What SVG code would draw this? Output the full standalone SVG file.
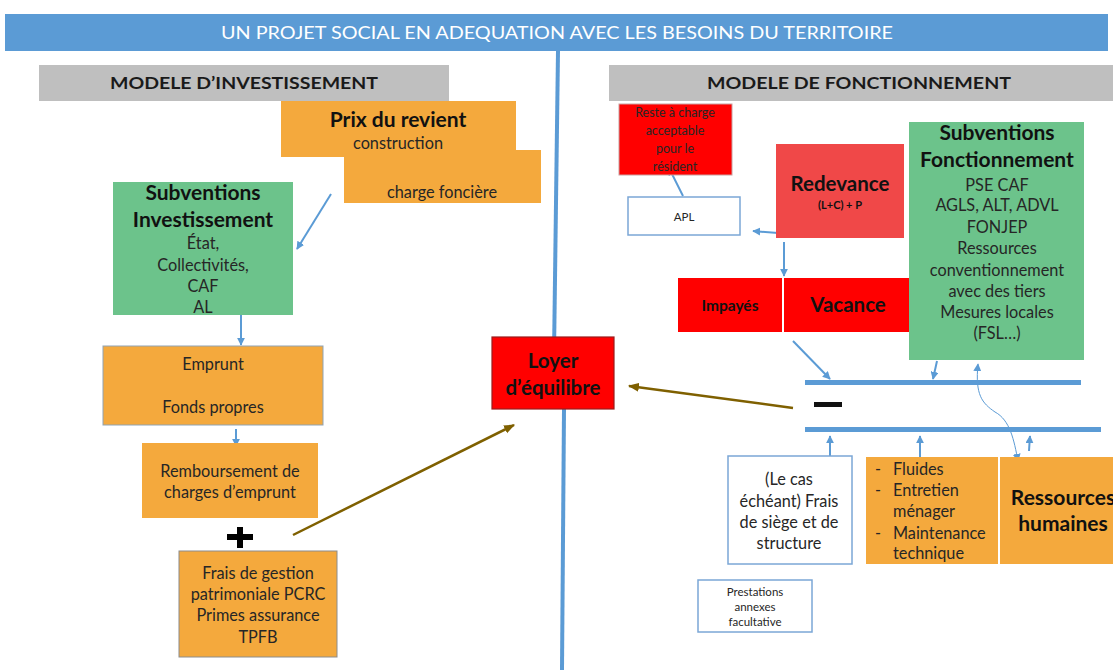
<svg xmlns="http://www.w3.org/2000/svg" width="1113" height="670" viewBox="0 0 1113 670">
<defs>
<style>
.t{font-family:Lato,"Liberation Sans",sans-serif;fill:#262626;text-anchor:middle;font-size:16.3px}
.b{font-weight:bold;fill:#111;font-size:21px}
.s{text-anchor:start}
.or{fill:#F4A93D}
.gr{fill:#6CC38B}
.rd{fill:#FF0000}
.wb{fill:#fff;stroke:#7BA7D6;stroke-width:1.5}
.bl{stroke:#5B9BD5;fill:none;stroke-width:2}
.ol{stroke:#7F6000;fill:none;stroke-width:2.5}
</style>
<marker id="ab" viewBox="0 0 10 10" refX="9" refY="5" markerWidth="8" markerHeight="8" markerUnits="userSpaceOnUse" orient="auto"><path d="M0,0 L10,5 L0,10 z" fill="#5B9BD5"/></marker>
<marker id="ao" viewBox="0 0 10 10" refX="9" refY="5" markerWidth="11" markerHeight="11" markerUnits="userSpaceOnUse" orient="auto"><path d="M0,1 L10,5 L0,9 z" fill="#7F6000"/></marker>
</defs>
<rect width="1113" height="670" fill="#fff"/>

<g id="banner">
<rect x="5" y="14" width="1103" height="37" fill="#5B9BD5"/>
<text x="557" y="39" class="t" style="fill:#fff;font-size:18px" textLength="672" lengthAdjust="spacingAndGlyphs">UN PROJET SOCIAL EN ADEQUATION AVEC LES BESOINS DU TERRITOIRE</text>
</g>

<g id="connectors">
<line x1="558" y1="51" x2="554" y2="355" stroke="#5B9BD5" stroke-width="4" marker-end="url(#ab)"/>
<line x1="564" y1="409" x2="562" y2="670" stroke="#5B9BD5" stroke-width="4"/>
<line x1="331" y1="194" x2="297" y2="249" class="bl" marker-end="url(#ab)"/>
<line x1="241" y1="315" x2="241" y2="345" class="bl" marker-end="url(#ab)"/>
<line x1="236" y1="429" x2="236" y2="446" class="bl" marker-end="url(#ab)"/>
<line x1="293" y1="535" x2="514" y2="425" class="ol" marker-end="url(#ao)"/>
<line x1="793" y1="408" x2="629" y2="386" class="ol" marker-end="url(#ao)"/>
<line x1="683" y1="196" x2="669" y2="168" class="bl" marker-end="url(#ab)"/>
<line x1="778" y1="233" x2="753" y2="231" class="bl" marker-end="url(#ab)"/>
<line x1="784" y1="242" x2="784" y2="276" class="bl" marker-end="url(#ab)"/>
<line x1="793" y1="341" x2="830" y2="379" class="bl" marker-end="url(#ab)"/>
<line x1="937" y1="361" x2="933" y2="379" class="bl" marker-end="url(#ab)"/>
<path d="M995,412 C982,403 975,395 978,364" stroke="#5B9BD5" stroke-width="1" fill="none" marker-end="url(#ab)"/>
<path d="M995,412 C1010,420 1014,440 1018,461" stroke="#5B9BD5" stroke-width="1" fill="none" marker-end="url(#ab)"/>
<line x1="830" y1="457" x2="830" y2="436" class="bl" marker-end="url(#ab)"/>
<line x1="920" y1="457" x2="920" y2="436" class="bl" marker-end="url(#ab)"/>
<line x1="1029" y1="451" x2="1030" y2="436" class="bl" marker-end="url(#ab)"/>
</g>

<g id="hdr-invest">
<rect x="39" y="65" width="410" height="36" fill="#BFBFBF"/>
<text x="244" y="89" class="t" style="fill:#1a1a1a;font-size:17px;font-weight:bold" textLength="268" lengthAdjust="spacingAndGlyphs">MODELE D’INVESTISSEMENT</text>
</g>
<g id="hdr-fonct">
<rect x="609" y="65" width="504" height="36" fill="#BFBFBF"/>
<text x="859" y="89" class="t" style="fill:#1a1a1a;font-size:17px;font-weight:bold" textLength="304" lengthAdjust="spacingAndGlyphs">MODELE DE FONCTIONNEMENT</text>
</g>

<g id="prix-revient">
<rect x="344" y="150" width="197" height="53" class="or"/>
<rect x="281" y="101" width="235" height="56" class="or"/>
<text x="398" y="127" class="t b">Prix du revient</text>
<text x="398" y="149" class="t">construction</text>
<text x="442" y="198" class="t">charge foncière</text>
</g>

<g id="subv-invest">
<rect x="113" y="182" width="180" height="133" class="gr"/>
<text x="203" y="200" class="t b">Subventions</text>
<text x="203" y="227" class="t b">Investissement</text>
<text x="203" y="249" class="t">État,</text>
<text x="203" y="271" class="t">Collectivités,</text>
<text x="203" y="292" class="t">CAF</text>
<text x="203" y="313" class="t">AL</text>
</g>

<g id="emprunt">
<rect x="103" y="346" width="220" height="79" class="or" stroke="#8FA3B5" stroke-width="1"/>
<text x="213" y="370" class="t">Emprunt</text>
<text x="213" y="413" class="t">Fonds propres</text>
</g>

<g id="remboursement">
<rect x="142" y="443" width="176" height="75" class="or"/>
<text x="230" y="477" class="t">Remboursement de</text>
<text x="230" y="498" class="t">charges d’emprunt</text>
</g>

<g id="plus">
<path d="M227,537 H253 M240,527 V548" stroke="#000" stroke-width="6"/>
</g>

<g id="frais-gestion">
<rect x="179" y="551" width="158" height="106" class="or" stroke="#8C8C8C" stroke-width="1"/>
<text x="258" y="579" class="t">Frais de gestion</text>
<text x="258" y="600" class="t">patrimoniale PCRC</text>
<text x="258" y="621" class="t">Primes assurance</text>
<text x="258" y="643" class="t">TPFB</text>
</g>

<g id="loyer">
<rect x="492" y="337" width="122" height="72" class="rd" stroke="#9B1B1B" stroke-width="1.2"/>
<text x="553" y="368" class="t b" style="font-size:20.5px">Loyer</text>
<text x="553" y="395" class="t b" style="font-size:20.5px">d’équilibre</text>
</g>

<g id="reste-charge">
<rect x="619" y="104" width="113" height="71" class="rd" stroke="#C9A0A0" stroke-width="1"/>
<text x="675" y="117" class="t" style="font-size:12.5px">Reste à charge</text>
<text x="675" y="135" class="t" style="font-size:12.5px">acceptable</text>
<text x="675" y="153" class="t" style="font-size:12.5px">pour le</text>
<text x="675" y="171" class="t" style="font-size:12.5px">résident</text>
</g>

<g id="apl">
<rect x="628" y="197" width="112" height="38" class="wb"/>
<text x="684" y="221" class="t" style="font-size:11.5px">APL</text>
</g>

<g id="redevance">
<rect x="776" y="144" width="128" height="94" fill="#F04848"/>
<text x="840" y="191" class="t b" style="font-size:20.5px">Redevance</text>
<text x="840" y="209" class="t b" style="font-size:11px">(L+C) + P</text>
</g>

<g id="impayes">
<rect x="678" y="278" width="104" height="54" class="rd"/>
<text x="730" y="311" class="t b" style="font-size:15.5px">Impayés</text>
</g>
<g id="vacance">
<rect x="784" y="278" width="126" height="54" class="rd"/>
<text x="848" y="312" class="t b" style="font-size:20.5px">Vacance</text>
</g>

<g id="subv-fonct">
<rect x="909" y="122" width="175" height="238" class="gr"/>
<text x="997" y="140" class="t b">Subventions</text>
<text x="997" y="167" class="t b">Fonctionnement</text>
<text x="997" y="191" class="t">PSE CAF</text>
<text x="997" y="211" class="t">AGLS, ALT, ADVL</text>
<text x="997" y="233" class="t">FONJEP</text>
<text x="997" y="254" class="t">Ressources</text>
<text x="997" y="276" class="t">conventionnement</text>
<text x="997" y="297" class="t">avec des tiers</text>
<text x="997" y="318" class="t">Mesures locales</text>
<text x="997" y="339" class="t">(FSL…)</text>
</g>

<g id="balance">
<rect x="805" y="380" width="276" height="5" fill="#5B9BD5"/>
<rect x="805" y="427" width="296" height="5" fill="#5B9BD5"/>
<rect x="814" y="402" width="28" height="5" fill="#111"/>
</g>

<g id="frais-siege">
<rect x="728" y="456" width="124" height="108" class="wb"/>
<text x="789" y="485" class="t">(Le cas</text>
<text x="789" y="507" class="t">échéant) Frais</text>
<text x="789" y="528" class="t">de siège et de</text>
<text x="789" y="549" class="t">structure</text>
</g>

<g id="charges-courantes">
<rect x="866" y="457" width="132" height="107" class="or"/>
<text x="875" y="475" class="t s">-</text>
<text x="893" y="475" class="t s">Fluides</text>
<text x="875" y="496" class="t s">-</text>
<text x="893" y="496" class="t s">Entretien</text>
<text x="893" y="517" class="t s">ménager</text>
<text x="875" y="539" class="t s">-</text>
<text x="893" y="539" class="t s">Maintenance</text>
<text x="893" y="559" class="t s">technique</text>
</g>

<g id="ressources-humaines">
<rect x="1000" y="457" width="113" height="107" class="or"/>
<text x="1063" y="505" class="t b">Ressources</text>
<text x="1063" y="531" class="t b">humaines</text>
</g>

<g id="prestations">
<rect x="698" y="580" width="114" height="52" class="wb"/>
<text x="755" y="596" class="t" style="font-size:11.5px">Prestations</text>
<text x="755" y="611" class="t" style="font-size:11.5px">annexes</text>
<text x="755" y="626" class="t" style="font-size:11.5px">facultative</text>
</g>
</svg>
